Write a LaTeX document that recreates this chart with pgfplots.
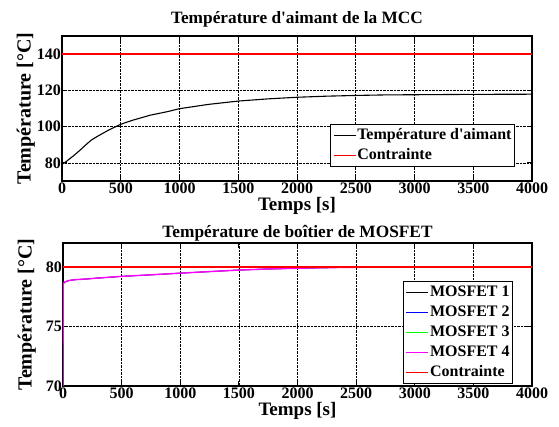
\documentclass[border=0pt]{standalone}
\usepackage{fontspec}
\setmainfont{Liberation Serif}
\usepackage{pgfplots}
\pgfplotsset{compat=1.18}
\definecolor{mred}{RGB}{255,0,0}
\definecolor{mblue}{RGB}{0,0,255}
\definecolor{mgreen}{RGB}{0,255,0}
\definecolor{mmag}{RGB}{255,0,255}

\pgfplotsset{
  matstyle/.style={
    scale only axis,
    xmin=0, xmax=4000,
    xtick={0,500,...,4000},
    scaled ticks=false,
    /pgf/number format/assume math mode=true,
    /pgf/number format/1000 sep={},
    ticklabel style={font=\fontsize{16}{18}\selectfont\bfseries},
    xticklabel style={inner sep=1pt, yshift=-1pt},
    yticklabel style={inner sep=1pt},
    xlabel style={font=\fontsize{19}{22}\selectfont\bfseries},
    ylabel style={font=\fontsize{20}{22}\selectfont\bfseries},
    title style={font=\fontsize{17.3}{20}\selectfont\bfseries},
    xlabel style={at={(axis description cs:0.5,0)}, anchor=north, inner sep=0pt, yshift=-16.5pt},
    ylabel style={at={(axis description cs:0,0.5)}, anchor=south, inner sep=0pt, yshift=27pt},
    tick align=inside,
    xtick pos=both, ytick pos=both,
    major tick length=5pt,
    tick style={black, line width=0.8pt},
    axis line style={black, line width=1.4pt},
    grid=major,
    major grid style={black, densely dotted, line width=0.6pt},
    legend cell align=left,
    legend image code/.code={\draw[#1] (0pt,0pt) -- (22pt,0pt);},
    legend style={draw=black, line width=1.2pt, fill=white,
      font=\fontsize{16}{18}\selectfont\bfseries,
      inner xsep=2pt, inner ysep=1pt,
      nodes={inner sep=1pt, text height=13pt, text depth=5pt},
      row sep=0pt},
  }
}

\begin{document}
\begin{tikzpicture}
\path[use as bounding box] (0pt,0pt) rectangle (559pt,426pt);

% Top axis
\begin{axis}[matstyle,
  at={(62pt,245pt)}, anchor=south west,
  width=470pt, height=145pt,
  ymin=70, ymax=150,
  ytick={80,100,120,140},
  title={Température d\textquotesingle aimant de la MCC},
  title style={at={(axis description cs:0.5,1)}, anchor=south, inner sep=0pt, yshift=3pt},
  xlabel={Temps [s]},
  ylabel={Température [°C]},
  legend style={at={(0.964,0.393)}, anchor=north east},
]
\addplot[black, line width=1.1pt] coordinates {
(0,79.2) (25,80.2) (50,81.5) (100,84) (150,86.8) (200,89.8) (250,92.6)
(300,94.6) (400,98.2) (500,101.3) (600,103.5) (750,106.3) (900,108.3)
(1000,109.9) (1250,112.3) (1500,114.1) (1750,115.3) (2000,116.2)
(2250,116.8) (2500,117.2) (2750,117.5) (3000,117.6) (3500,117.8) (4000,117.9)
};
\addlegendentry{Température d\textquotesingle aimant}
\addplot[mred, line width=1.4pt] coordinates {(0,140) (4000,140)};
\addlegendentry{Contrainte}
\end{axis}

% Bottom axis
\begin{axis}[matstyle,
  at={(63pt,40pt)}, anchor=south west,
  width=469pt, height=143pt,
  ymin=70, ymax=82,
  ytick={70,75,80},
  title={Température de boîtier de MOSFET},
  title style={at={(axis description cs:0.5,1)}, anchor=south, inner sep=0pt, yshift=-4pt},
  xlabel={Temps [s]},
  ylabel={Température [°C]},
  legend style={at={(0.96,0.734)}, anchor=north east},
]
\addplot[black, line width=0.7pt] coordinates {
(0,70) (1,78.6) (20,78.75) (50,78.85) (100,78.92) (200,78.98) (300,79.06)
(500,79.2) (750,79.33) (1000,79.47) (1250,79.6) (1500,79.73) (1750,79.82)
(2000,79.88) (2250,79.93) (2500,79.96) (3000,79.98) (4000,80.0)
};
\addlegendentry{MOSFET 1}
\addplot[mblue, line width=0.7pt] coordinates {
(0,70) (1,78.6) (20,78.75) (50,78.85) (100,78.92) (200,78.98) (300,79.06)
(500,79.2) (750,79.33) (1000,79.47) (1250,79.6) (1500,79.73) (1750,79.82)
(2000,79.88) (2250,79.93) (2500,79.96) (3000,79.98) (4000,80.0)
};
\addlegendentry{MOSFET 2}
\addplot[mgreen, line width=0.7pt] coordinates {
(0,70) (1,78.6) (20,78.75) (50,78.85) (100,78.92) (200,78.98) (300,79.06)
(500,79.2) (750,79.33) (1000,79.47) (1250,79.6) (1500,79.73) (1750,79.82)
(2000,79.88) (2250,79.93) (2500,79.96) (3000,79.98) (4000,80.0)
};
\addlegendentry{MOSFET 3}
\addplot[mmag, line width=1.4pt] coordinates {
(0,70) (1,78.6) (20,78.75) (50,78.85) (100,78.92) (200,78.98) (300,79.06)
(500,79.2) (750,79.33) (1000,79.47) (1250,79.6) (1500,79.73) (1750,79.82)
(2000,79.88) (2250,79.93) (2500,79.96) (3000,79.98) (4000,80.0)
};
\addlegendentry{MOSFET 4}
\addplot[mred, line width=1.4pt] coordinates {(0,80) (4000,80)};
\addlegendentry{Contrainte}
\end{axis}
\end{tikzpicture}
\end{document}
